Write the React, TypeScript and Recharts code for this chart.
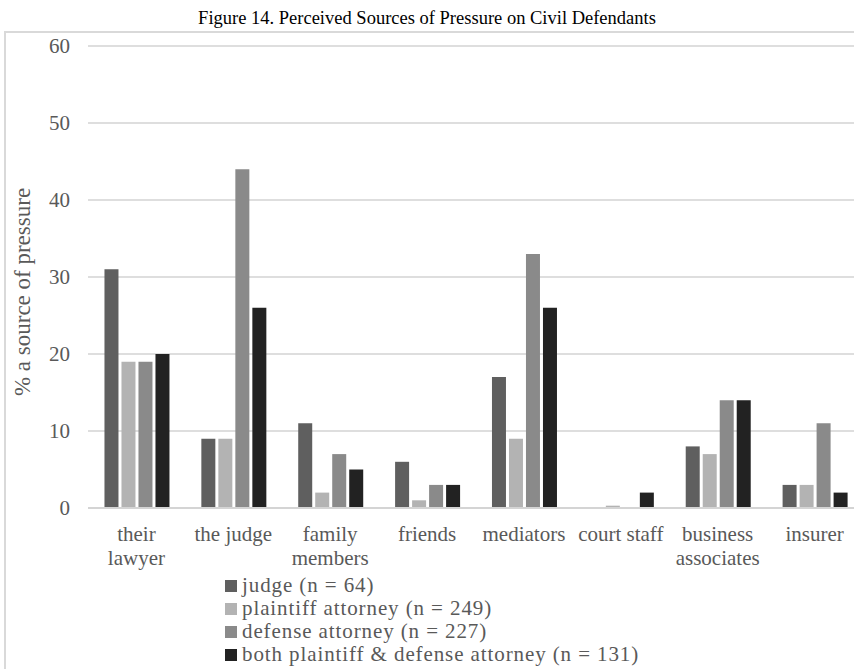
import { BarChart, Bar, XAxis, YAxis, CartesianGrid, Legend } from "recharts";

const categories = [
  "their\nlawyer",
  "the judge",
  "family\nmembers",
  "friends",
  "mediators",
  "court staff",
  "business\nassociates",
  "insurer",
];

const judge = [31, 9, 11, 6, 17, 0, 8, 3];
const plaintiffAttorney = [19, 9, 2, 1, 9, 0.3, 7, 3];
const defenseAttorney = [19, 44, 7, 3, 33, 0, 14, 11];
const bothAttorneys = [20, 26, 5, 3, 26, 2, 14, 2];

const yTicks = [0, 10, 20, 30, 40, 50, 60];

const series = [
  { key: "judge", name: "judge (n = 64)", color: "#5f5f5f", values: judge },
  { key: "plaintiff", name: "plaintiff attorney (n = 249)", color: "#b3b3b3", values: plaintiffAttorney },
  { key: "defense", name: "defense attorney (n = 227)", color: "#8a8a8a", values: defenseAttorney },
  { key: "both", name: "both plaintiff & defense attorney (n = 131)", color: "#222222", values: bothAttorneys },
];

const data = categories.map((category, i) => {
  const row: Record<string, string | number> = { category };
  series.forEach((s) => { row[s.key] = s.values[i]; });
  return row;
});

const FONT = "'Liberation Serif', 'Times New Roman', serif";

function CategoryTick({ x, y, payload }: any) {
  const lines = String(payload.value).split("\n");
  return (
    <text x={x} y={y} textAnchor="middle" fill="#595959" fontSize={21} fontFamily={FONT}>
      {lines.map((line, i) => (
        <tspan key={i} x={x} dy={i === 0 ? 25 : 24}>{line}</tspan>
      ))}
    </text>
  );
}

function YLabel() {
  return (
    <text
      x={22} y={292}
      transform="rotate(-90, 22, 292)"
      textAnchor="middle" dominantBaseline="central"
      fill="#595959" fontSize={23} fontFamily={FONT}
    >
      % a source of pressure
    </text>
  );
}

function LegendBox() {
  return (
    <div style={{ fontFamily: FONT, fontSize: 21, letterSpacing: 0.9, color: "#595959" }}>
      {series.map((s) => (
        <div key={s.key} style={{ height: 23, lineHeight: "23px", whiteSpace: "nowrap", display: "flex", alignItems: "center" }}>
          <span style={{ display: "inline-block", width: 12, height: 12, background: s.color, marginRight: 5 }} />
          <span>{s.name}</span>
        </div>
      ))}
    </div>
  );
}

export default function App() {
  return (
    <div style={{ position: "absolute", left: 0, top: 0, width: 854, height: 669, overflow: "hidden", background: "#fff" }}>
      <div style={{ position: "absolute", left: 0, top: 7, width: 854, textAlign: "center", fontFamily: FONT, fontSize: 18.5, color: "#000", lineHeight: "22px" }}>
        Figure 14. Perceived Sources of Pressure on Civil Defendants
      </div>
      <div style={{ position: "absolute", left: 4, top: 31, width: 900, height: 700, borderLeft: "2px solid #d9d9d9", borderTop: "2px solid #d9d9d9" }} />
      <div style={{ position: "absolute", left: 0, top: 0 }}>
        <BarChart
          width={870}
          height={669}
          data={data}
          margin={{ top: 46, right: 7, bottom: 101, left: 8 }}
          barCategoryGap="17%"
          barGap={3}
        >
          <CartesianGrid vertical={false} stroke="#dedede" strokeWidth={2} />
          <XAxis
            dataKey="category"
            interval={0}
            height={60}
            tickLine={false}
            axisLine={{ stroke: "#d4d4d4", strokeWidth: 2 }}
            tick={<CategoryTick />}
          />
          <YAxis
            domain={[0, 60]}
            ticks={yTicks}
            width={80}
            tickLine={false}
            axisLine={false}
            tickSize={0}
            tickMargin={18}
            tick={{ fill: "#595959", fontSize: 21, fontFamily: FONT }}
            label={<YLabel />}
          />
          <Legend
            layout="vertical"
            align="center"
            verticalAlign="middle"
            wrapperStyle={{ left: 225, top: 574, width: "auto" }}
            content={<LegendBox />}
          />
          {series.map((s) => (
            <Bar key={s.key} dataKey={s.key} name={s.name} fill={s.color} isAnimationActive={false} />
          ))}
        </BarChart>
      </div>
    </div>
  );
}
